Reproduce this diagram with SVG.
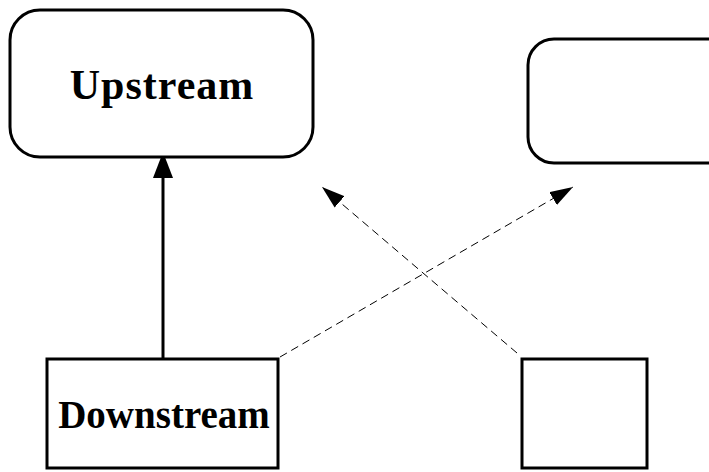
<svg xmlns="http://www.w3.org/2000/svg" width="709" height="472" viewBox="0 0 709 472">
  <style>
    .box { fill: #ffffff; stroke: #000000; stroke-width: 3; }
    .label { font-family: "Liberation Serif", "Times New Roman", serif; font-weight: bold; fill: #000000; text-anchor: middle; }
    .solid { stroke: #000000; stroke-width: 3; fill: none; }
    .dashed { stroke: #000000; stroke-width: 1; stroke-dasharray: 8 5; fill: none; }
  </style>
  <defs>
    <marker id="headSolid" markerUnits="userSpaceOnUse" markerWidth="26" markerHeight="20" refX="26" refY="10" orient="auto">
      <path d="M0,0 L26,10 L0,20 Z" fill="#000000"/>
    </marker>
    <marker id="headDashed" markerUnits="userSpaceOnUse" markerWidth="23" markerHeight="15" refX="23" refY="7.5" orient="auto">
      <path d="M0,0 L23,7.5 L0,15 Z" fill="#000000"/>
    </marker>
  </defs>
  <rect width="709" height="472" fill="#ffffff"/>

  <g id="connectors">
    <line class="solid" x1="163" y1="359" x2="163" y2="152" marker-end="url(#headSolid)"/>
    <line class="dashed" x1="280" y1="357" x2="573" y2="187" marker-end="url(#headDashed)"/>
    <line class="dashed" x1="517" y1="353" x2="322" y2="187" marker-end="url(#headDashed)"/>
  </g>

  <g id="upstream">
    <rect class="box" x="10" y="10" width="303" height="147" rx="30" ry="30"/>
    <text class="label" x="162" y="99" font-size="42" letter-spacing="1">Upstream</text>
  </g>

  <g id="upstream-right">
    <rect class="box" x="528" y="39" width="220" height="124" rx="26" ry="26"/>
  </g>

  <g id="downstream">
    <rect class="box" x="47" y="359" width="231" height="109"/>
    <text class="label" x="164" y="428" font-size="39">Downstream</text>
  </g>

  <g id="downstream-right">
    <rect class="box" x="522" y="359" width="125" height="109"/>
  </g>
</svg>
